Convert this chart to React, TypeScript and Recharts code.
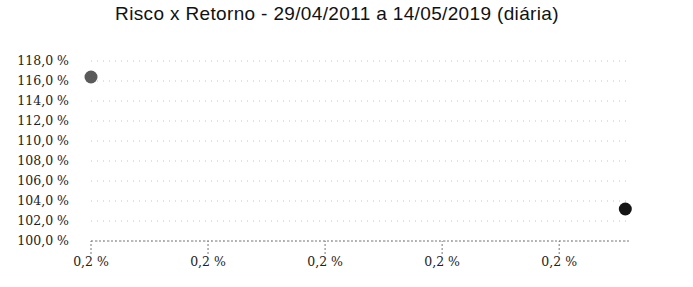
import { CartesianGrid, Cell, Scatter, ScatterChart, XAxis, YAxis } from "recharts";

const risco = [0.16, 0.2513];
const retorno = [116.4, 103.2];
const pointColors = ["#5a5a5a", "#151515"];
const xTicks = [0.16, 0.18, 0.2, 0.22, 0.24];
const yTicks = [100, 102, 104, 106, 108, 110, 112, 114, 116, 118];

const data = risco.map((r, i) => ({ risco: r, retorno: retorno[i] }));

const tickFont = { fontFamily: "DejaVu Serif", fontSize: 12.5, fill: "#222" };

const Dot = (props: any) => <circle cx={props.cx} cy={props.cy} r={6.5} fill={props.fill} />;

export default function App() {
  return (
    <div style={{ position: "absolute", left: 0, top: 0, width: 693, height: 287, background: "#fff" }}>
      <div
        style={{
          position: "absolute",
          left: 0,
          top: 3,
          width: 674,
          textAlign: "center",
          fontFamily: "Liberation Sans",
          fontSize: 19,
          letterSpacing: 0.35,
          color: "#111",
        }}
      >
        Risco x Retorno - 29/04/2011 a 14/05/2019 (diária)
      </div>
      <ScatterChart width={693} height={287} margin={{ top: 61, right: 63, bottom: 16, left: 0 }}>
        <CartesianGrid vertical={false} stroke="#c4c4c4" strokeDasharray="1 5" />
        <XAxis
          type="number"
          dataKey="risco"
          domain={[0.16, 0.2521]}
          ticks={xTicks}
          tickFormatter={(v: number) => v.toFixed(1).replace(".", ",") + " %"}
          tick={tickFont}
          axisLine={{ stroke: "#777", strokeDasharray: "2 2" }}
          tickLine={{ stroke: "#777", strokeDasharray: "2 2" }}
          tickSize={13}
          tickMargin={3}
          interval={0}
        />
        <YAxis
          type="number"
          dataKey="retorno"
          domain={[100, 118]}
          ticks={yTicks}
          tickFormatter={(v: number) => v.toFixed(1).replace(".", ",") + " %"}
          tick={tickFont}
          axisLine={false}
          tickLine={false}
          tickSize={0}
          tickMargin={22}
          width={91}
          interval={0}
        />
        <Scatter data={data} shape={Dot} isAnimationActive={false}>
          {data.map((_, i) => (
            <Cell key={i} fill={pointColors[i]} />
          ))}
        </Scatter>
      </ScatterChart>
    </div>
  );
}
